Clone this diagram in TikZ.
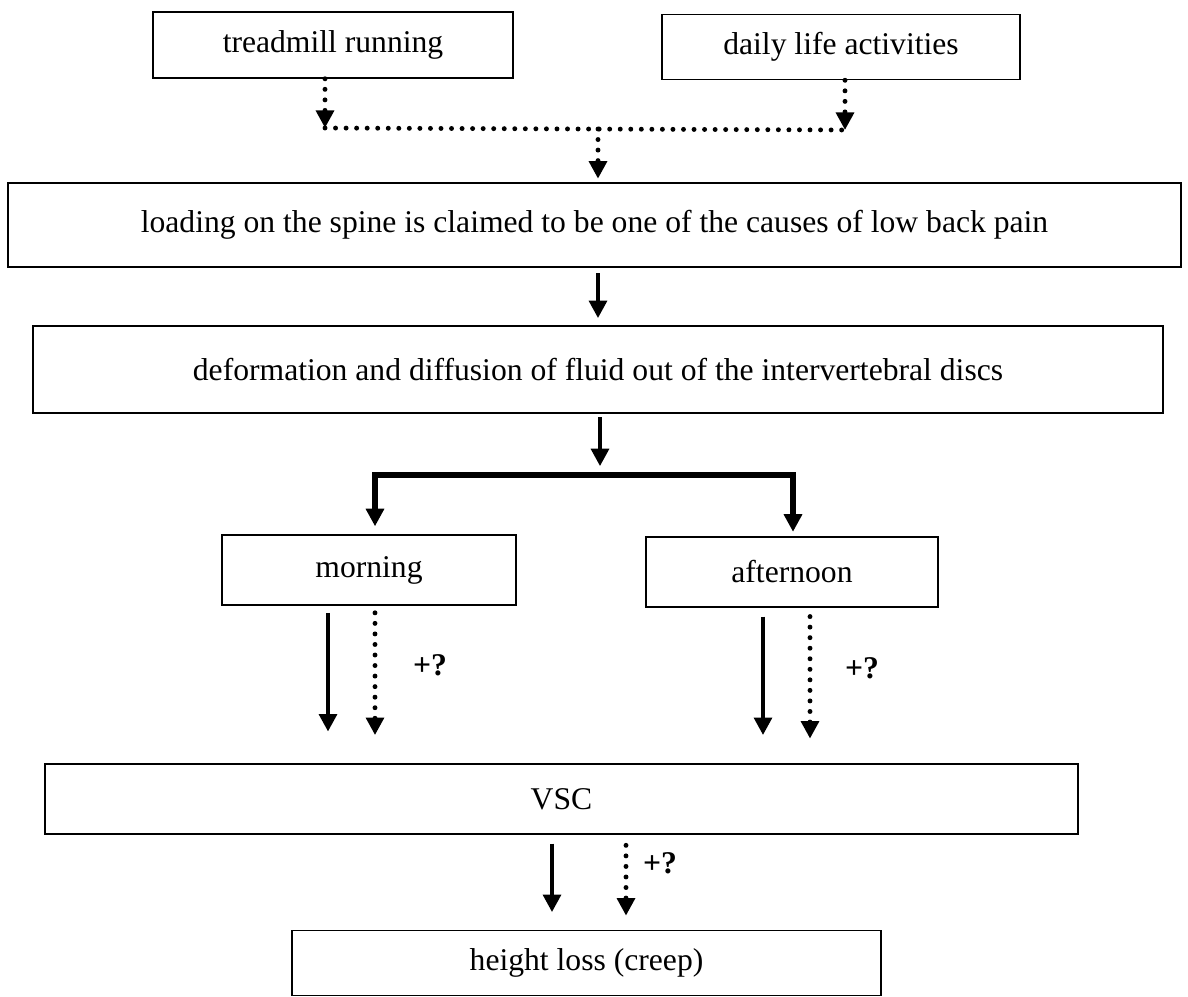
\documentclass[tikz,border=0pt]{standalone}
\usepackage{fontspec}
\setmainfont{Liberation Serif}
\usepackage{tikz}
\usetikzlibrary{arrows.meta, positioning, calc}

\begin{document}
\begin{tikzpicture}[
    font=\fontsize{18}{21}\selectfont,
    >={Triangle[width=10pt,length=10pt]},
    % Node styles
    stepbox/.style={draw, line width=0.9pt, align=center, inner sep=4pt},
    solidarrow/.style={->, line width=2.8pt, color=black},
    dotarrow/.style={->, line width=2.8pt, line cap=round, dash pattern=on 0pt off 6pt, color=black},
    dotline/.style={line width=2.8pt, line cap=round, dash pattern=on 0pt off 6pt, color=black},
    bararrow/.style={->, line width=3.4pt, miter limit=10, color=black},
    qlabel/.style={font=\fontsize{18}{21}\selectfont\bfseries}
]
\useasboundingbox (0,0) rectangle (23.76,-19.92);

% ========== SOURCES ==========
\node[stepbox, minimum width=7.2cm, minimum height=1.32cm] (tread) at (6.66,-0.9) {treadmill running};
\node[stepbox, minimum width=7.16cm, minimum height=1.3cm] (daily) at (16.82,-0.94) {daily life activities};

% ========== MECHANISM ==========
\node[stepbox, minimum width=23.46cm, minimum height=1.68cm] (load) at (11.89,-4.5) {loading on the spine is claimed to be one of the causes of low back pain};
\node[stepbox, minimum width=22.6cm, minimum height=1.74cm] (deform) at (11.96,-7.39) {deformation and diffusion of fluid out of the intervertebral discs};

% ========== TIME OF DAY ==========
\node[stepbox, minimum width=5.88cm, minimum height=1.4cm] (morn) at (7.38,-11.4) {morning};
\node[stepbox, minimum width=5.84cm, minimum height=1.4cm] (aftn) at (15.84,-11.44) {afternoon};

% ========== OUTCOMES ==========
\node[stepbox, minimum width=20.66cm, minimum height=1.4cm] (vsc) at (11.23,-15.98) {VSC};
\node[stepbox, minimum width=11.78cm, minimum height=1.3cm] (creep) at (11.73,-19.26) {height loss (creep)};

% ========== LABELS ==========
\node[qlabel] (q1) at (8.6,-13.3) {+?};
\node[qlabel] (q2) at (17.24,-13.36) {+?};
\node[qlabel] (q3) at (13.2,-17.26) {+?};

% ========== ARROWS ==========
% Sources joined by a dotted line
\coordinate (jl) at (6.5,-2.56);
\coordinate (jr) at (16.9,-2.6);
\coordinate (jm) at (11.96,-2.58);
\draw[dotarrow] (tread.south -| jl) -- (jl);
\draw[dotarrow] (daily.south -| jr) -- (jr);
\draw[dotline] (jl) -- (jr);
\draw[dotarrow, shorten >=2pt] (jm) -- (load.north -| jm);

% Loading to deformation
\draw[solidarrow, shorten <=3pt, shorten >=4pt] (load.south -| jm) -- (deform.north -| jm);

% Deformation splits to morning and afternoon
\coordinate (split) at (12,-9.5);
\coordinate (bl) at (7.5,-9.5);
\coordinate (br) at (15.86,-9.5);
\draw[solidarrow, shorten <=2pt, shorten >=5pt] (deform.south -| split) -- (split);
\draw[bararrow, shorten >=4.5pt] (split) -- (bl) -- (morn.north -| bl);
\draw[bararrow, shorten >=2.5pt] (split) -- (br) -- (aftn.north -| br);

% Morning and afternoon to VSC
\coordinate (ms) at (6.56,0);
\coordinate (md) at (7.5,0);
\coordinate (as) at (15.26,0);
\coordinate (ad) at (16.2,0);
\draw[solidarrow, shorten <=4pt, shorten >=18pt] (morn.south -| ms) -- (vsc.north -| ms);
\draw[dotarrow, shorten <=4pt, shorten >=16pt] (morn.south -| md) -- (vsc.north -| md);
\draw[solidarrow, shorten <=5pt, shorten >=16pt] (aftn.south -| as) -- (vsc.north -| as);
\draw[dotarrow, shorten <=5pt, shorten >=14pt] (aftn.south -| ad) -- (vsc.north -| ad);

% VSC to height loss
\coordinate (vs) at (11.04,0);
\coordinate (vd) at (12.52,0);
\draw[solidarrow, shorten <=5pt, shorten >=10pt] (vsc.south -| vs) -- (creep.north -| vs);
\draw[dotarrow, shorten <=6pt, shorten >=8pt] (vsc.south -| vd) -- (creep.north -| vd);

\end{tikzpicture}
\end{document}
